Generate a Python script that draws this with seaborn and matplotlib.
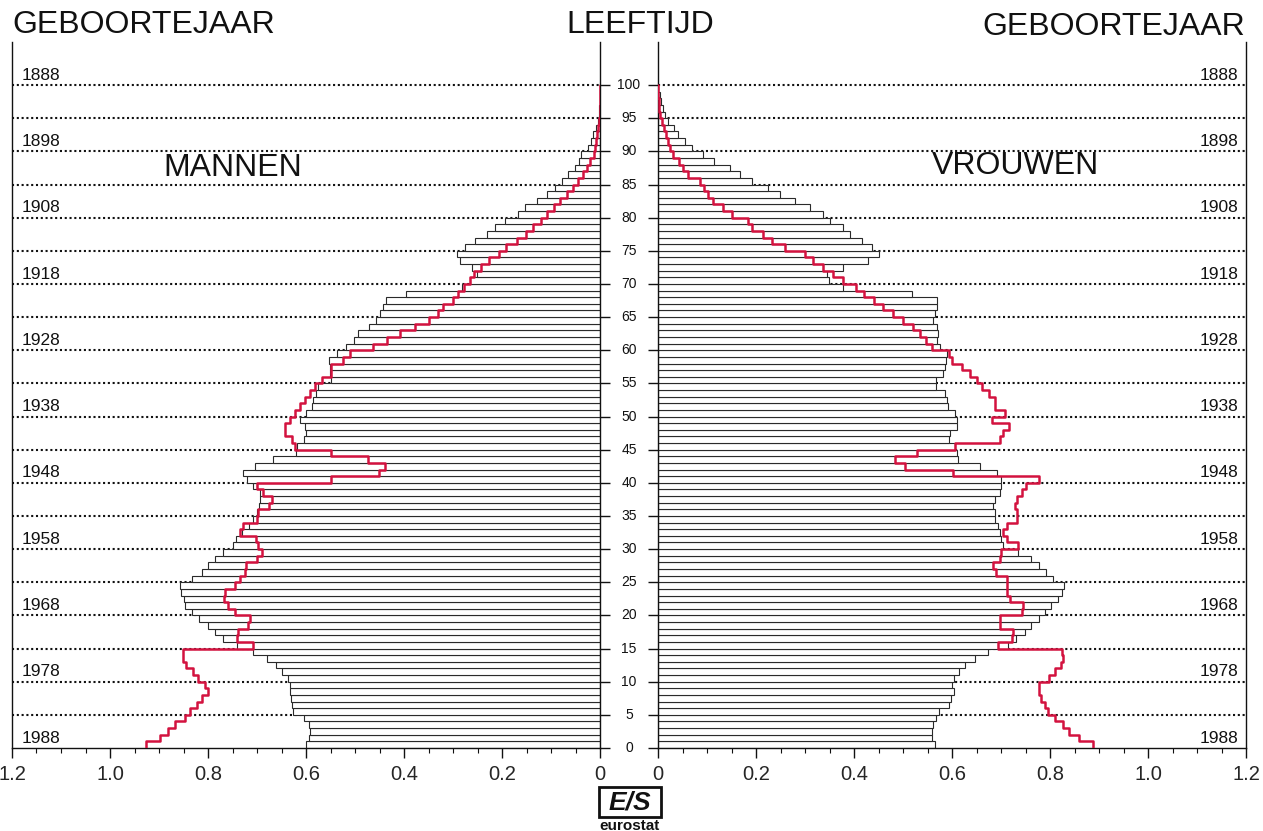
import numpy as np
import matplotlib
matplotlib.use("Agg")
import matplotlib.pyplot as plt
import matplotlib.transforms as mtransforms
from matplotlib.patches import Rectangle
from matplotlib.ticker import MultipleLocator
import seaborn as sns

sns.set_theme(style="white")
plt.rcParams['font.family'] = ['Liberation Sans', 'DejaVu Sans']

# leeftijd 0..99, aandeel in % van de bevolking (bars = land, rood = EUR 12)
ages = np.arange(100)

male_pop = [
    0.599, 0.593, 0.592, 0.594, 0.605, 0.626, 0.629, 0.631, 0.633, 0.632,
    0.636, 0.648, 0.661, 0.680, 0.708, 0.741, 0.770, 0.786, 0.801, 0.818,
    0.833, 0.847, 0.850, 0.856, 0.858, 0.833, 0.813, 0.801, 0.785, 0.770,
    0.750, 0.743, 0.730, 0.717, 0.709, 0.700, 0.695, 0.693, 0.694, 0.709,
    0.721, 0.728, 0.704, 0.667, 0.620, 0.619, 0.605, 0.599, 0.602, 0.612,
    0.600, 0.588, 0.585, 0.580, 0.575, 0.550, 0.551, 0.552, 0.554, 0.536,
    0.518, 0.503, 0.493, 0.471, 0.457, 0.449, 0.442, 0.437, 0.395, 0.282,
    0.265, 0.252, 0.262, 0.286, 0.291, 0.275, 0.255, 0.231, 0.214, 0.194,
    0.167, 0.153, 0.129, 0.109, 0.092, 0.078, 0.065, 0.052, 0.042, 0.039,
    0.025, 0.018, 0.015, 0.009, 0.005, 0.003, 0.002, 0.001, 0.001, 0.001,
]
male_ref = [
    0.927, 0.898, 0.881, 0.867, 0.847, 0.837, 0.822, 0.813, 0.799, 0.806,
    0.820, 0.831, 0.845, 0.852, 0.852, 0.708, 0.740, 0.738, 0.718, 0.714,
    0.745, 0.760, 0.768, 0.765, 0.745, 0.735, 0.725, 0.722, 0.700, 0.690,
    0.697, 0.702, 0.735, 0.728, 0.700, 0.697, 0.675, 0.670, 0.687, 0.701,
    0.548, 0.452, 0.439, 0.473, 0.548, 0.622, 0.629, 0.643, 0.643, 0.633,
    0.622, 0.612, 0.602, 0.592, 0.582, 0.568, 0.548, 0.548, 0.524, 0.510,
    0.463, 0.435, 0.408, 0.378, 0.350, 0.330, 0.320, 0.300, 0.290, 0.278,
    0.265, 0.258, 0.243, 0.226, 0.207, 0.192, 0.170, 0.152, 0.136, 0.121,
    0.109, 0.094, 0.082, 0.068, 0.056, 0.044, 0.035, 0.027, 0.020, 0.012,
    0.010, 0.009, 0.007, 0.005, 0.003, 0.001, 0.0, 0.0, 0.0, 0.0,
]
female_pop = [
    0.565, 0.559, 0.559, 0.562, 0.568, 0.573, 0.594, 0.598, 0.604, 0.600,
    0.604, 0.615, 0.627, 0.647, 0.673, 0.714, 0.730, 0.748, 0.762, 0.778,
    0.789, 0.803, 0.817, 0.825, 0.829, 0.807, 0.791, 0.778, 0.762, 0.734,
    0.705, 0.700, 0.697, 0.693, 0.688, 0.688, 0.684, 0.688, 0.698, 0.701,
    0.701, 0.691, 0.657, 0.612, 0.611, 0.606, 0.594, 0.596, 0.610, 0.611,
    0.606, 0.592, 0.589, 0.586, 0.567, 0.567, 0.582, 0.586, 0.588, 0.589,
    0.576, 0.570, 0.572, 0.569, 0.562, 0.565, 0.569, 0.569, 0.518, 0.378,
    0.348, 0.344, 0.378, 0.429, 0.450, 0.436, 0.416, 0.392, 0.377, 0.351,
    0.336, 0.310, 0.280, 0.249, 0.225, 0.191, 0.167, 0.147, 0.114, 0.091,
    0.069, 0.055, 0.040, 0.033, 0.021, 0.014, 0.011, 0.007, 0.005, 0.001,
]
female_ref = [
    0.888, 0.859, 0.839, 0.827, 0.811, 0.795, 0.789, 0.781, 0.778, 0.778,
    0.797, 0.811, 0.823, 0.827, 0.825, 0.693, 0.722, 0.724, 0.697, 0.697,
    0.742, 0.744, 0.718, 0.713, 0.713, 0.713, 0.689, 0.684, 0.697, 0.701,
    0.734, 0.713, 0.705, 0.713, 0.732, 0.732, 0.728, 0.732, 0.742, 0.752,
    0.778, 0.603, 0.504, 0.484, 0.528, 0.606, 0.698, 0.705, 0.717, 0.681,
    0.708, 0.687, 0.687, 0.675, 0.662, 0.652, 0.637, 0.620, 0.600, 0.593,
    0.560, 0.547, 0.535, 0.520, 0.500, 0.480, 0.460, 0.440, 0.420, 0.405,
    0.378, 0.358, 0.337, 0.317, 0.300, 0.259, 0.232, 0.215, 0.191, 0.184,
    0.150, 0.133, 0.113, 0.103, 0.093, 0.086, 0.062, 0.052, 0.042, 0.030,
    0.025, 0.020, 0.016, 0.012, 0.008, 0.005, 0.003, 0.002, 0.001, 0.0,
]

age_ticks = np.arange(0, 101, 5)
birth_years = [1988 - a for a in range(0, 101, 10)]
xticks = [0, 0.2, 0.4, 0.6, 0.8, 1.0, 1.2]
xticklabels = ["0", "0.2", "0.4", "0.6", "0.8", "1.0", "1.2"]

W, H = 1263, 831
fig = plt.figure(figsize=(W / 100, H / 100), dpi=100)
axL = fig.add_axes([12 / W, 83 / H, 588 / W, 706 / H])
axR = fig.add_axes([658 / W, 83 / H, 588 / W, 706 / H])

red = "#d3123f"
edge = "#2a2a2a"

for ax, pop, ref in [(axL, male_pop, male_ref), (axR, female_pop, female_ref)]:
    ax.set_facecolor("white")
    for a in age_ticks[1:]:
        ax.axhline(a, color="#111111", lw=1.5, ls=(0, (1, 1.3)), zorder=1)
    sns.barplot(x=pop, y=ages + 0.5, orient="y", native_scale=True, width=1,
                color="white", saturation=1, edgecolor=edge, linewidth=0.8,
                errorbar=None, ax=ax, zorder=2)
    sns.lineplot(x=list(ref) + [ref[-1]], y=np.arange(101), sort=False,
                 estimator=None, drawstyle="steps-pre", color=red, lw=1.8,
                 ax=ax, zorder=3)
    ax.set_ylim(0, 106.5)
    ax.set_xlabel("")
    ax.set_ylabel("")
    ax.set_xticks(xticks)
    ax.set_xticklabels(xticklabels, fontsize=14.5)
    ax.xaxis.set_minor_locator(MultipleLocator(0.05))
    ax.tick_params(axis="x", which="major", direction="out", length=7,
                   width=1, color="#111111", pad=5, bottom=True)
    ax.tick_params(axis="x", which="minor", direction="out", length=3.5,
                   width=0.8, color="#111111", bottom=True)
    ax.set_yticks(age_ticks)
    ax.set_yticklabels([])
    ax.spines["top"].set_visible(False)
    for s in ["left", "right", "bottom"]:
        ax.spines[s].set_color("#111111")
        ax.spines[s].set_linewidth(1.0)

axL.set_xlim(1.2, 0)
axR.set_xlim(0, 1.2)
axL.yaxis.tick_right()
axR.yaxis.tick_left()
axL.tick_params(axis="y", direction="out", length=7, width=1, color="#111111")
axR.tick_params(axis="y", direction="out", length=7, width=1, color="#111111")

# leeftijd labels in het midden
mid = mtransforms.blended_transform_factory(fig.transFigure, axL.transData)
for a in age_ticks:
    fig.text(629 / W, a, str(a), transform=mid, ha="center", va="center",
             fontsize=10, color="#111111")

# geboortejaren
for a, yr in zip(range(0, 101, 10), birth_years):
    axL.text(1.18, a + 1.5, str(yr), ha="left", va="center", fontsize=12.5,
             color="#111111")
    axR.text(1.185, a + 1.5, str(yr), ha="right", va="center", fontsize=12.5,
             color="#111111")

axL.text(0.75, 87.5, "MANNEN", ha="center", va="center", fontsize=23,
         color="#111111")
axR.text(0.73, 87.8, "VROUWEN", ha="center", va="center", fontsize=23,
         color="#111111")

fig.text(12 / W, 1 - 25 / H, "GEBOORTEJAAR", ha="left", va="center",
         fontsize=23, color="#111111")
fig.text(640 / W, 1 - 25 / H, "LEEFTIJD", ha="center", va="center",
         fontsize=23, color="#111111")
fig.text(1245 / W, 1 - 27 / H, "GEBOORTEJAAR", ha="right", va="center",
         fontsize=23, color="#111111")

# eurostat logo
fig.patches.append(Rectangle((599 / W, 1 - 817 / H), 62 / W, 30 / H,
                             transform=fig.transFigure, fill=False,
                             edgecolor="#111111", lw=2))
fig.text(630 / W, 1 - 802 / H, "E/S", ha="center", va="center", fontsize=19,
         fontweight="bold", fontstyle="italic", color="#111111")
fig.text(630 / W, 1 - 826 / H, "eurostat", ha="center", va="center",
         fontsize=11, fontweight="bold", color="#111111")

fig.savefig("out.png", dpi=100, facecolor="white")
